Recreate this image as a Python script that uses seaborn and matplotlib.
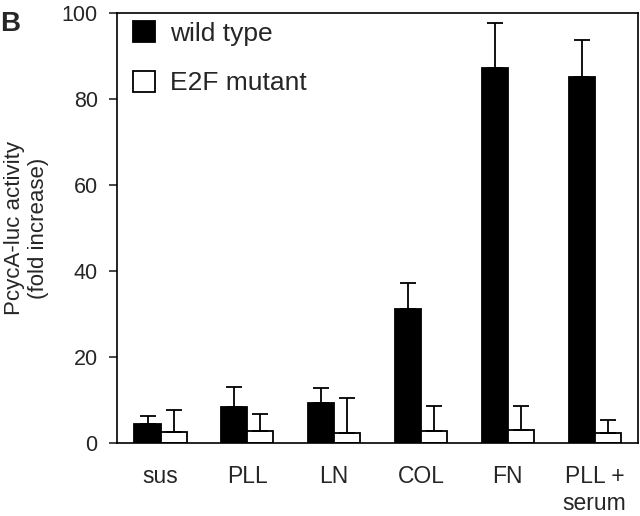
import seaborn as sns
import pandas as pd
import numpy as np
import matplotlib.pyplot as plt

conditions = ['sus', 'PLL', 'LN', 'COL', 'FN', 'PLL +\nserum']
wild_type = [4.4, 8.3, 9.2, 31.1, 87.1, 85.0]
wild_type_err = [1.9, 4.7, 3.7, 6.0, 10.6, 8.7]
mutant = [2.6, 2.9, 2.4, 2.7, 3.0, 2.25]
mutant_err = [5.1, 3.8, 8.1, 6.0, 5.7, 3.05]

df = pd.DataFrame({
    'condition': conditions * 2,
    'activity': wild_type + mutant,
    'construct': ['wild type'] * 6 + ['E2F mutant'] * 6,
})

sns.set_style('ticks')
plt.rcParams['font.family'] = ['Liberation Sans', 'DejaVu Sans']
plt.rcParams['font.size'] = 15

fig = plt.figure(figsize=(6.4, 5.16), dpi=100)
ax = fig.add_axes([0.183, 0.1415, 0.814, 0.8335])

sns.barplot(data=df, x='condition', y='activity', hue='construct',
            palette=['black', 'white'], edgecolor='black', linewidth=1.3,
            width=0.6, errorbar=None, ax=ax)

# upward-only error bars on top of each bar
for cont, errs in zip(ax.containers, [wild_type_err, mutant_err]):
    xs = [p.get_x() + p.get_width() / 2 for p in cont]
    ys = [p.get_height() for p in cont]
    ax.errorbar(xs, ys, yerr=[np.zeros(len(errs)), errs], fmt='none',
                ecolor='black', elinewidth=1.3, capsize=6, capthick=1.3, zorder=3)

ax.set_ylim(0, 100)
ax.set_xlim(-0.5, 5.5)
ax.set_yticks([0, 20, 40, 60, 80, 100])
ax.set_xlabel('')
ax.set_ylabel('PcycA-luc activity\n(fold increase)', fontsize=16, labelpad=9)
ax.tick_params(axis='x', length=0, pad=16, labelsize=16.5)
ax.tick_params(axis='y', length=6, width=1.2, pad=8, labelsize=15.5, direction='out')
for lab in ax.get_xticklabels():
    lab.set_linespacing(1.2)
for s in ax.spines.values():
    s.set_linewidth(1.2)
    s.set_color('black')

handles, labels = ax.get_legend_handles_labels()
ax.legend(handles, labels, loc='upper left', frameon=False, fontsize=19,
          handlelength=0.85, handleheight=0.85, handletextpad=0.55,
          labelspacing=0.95, borderaxespad=0.2, bbox_to_anchor=(0.0, 1.018))

fig.text(0.0, 0.978, 'B', fontsize=20, fontweight='bold', va='top')

fig.savefig('out.png', dpi=100)
